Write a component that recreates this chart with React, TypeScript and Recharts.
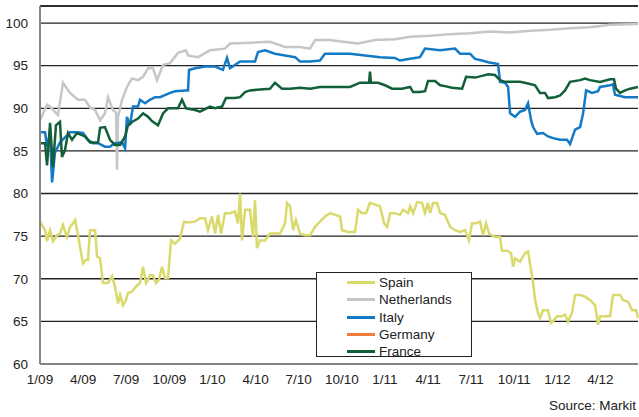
import { CartesianGrid, Line, LineChart, ReferenceLine, XAxis, YAxis } from 'recharts'

// x = months since Jan 2009, y = price
const spain: [number, number][] = [
  [0, 76.7], [0.35, 75.7], [0.49, 74.4], [0.7, 75.7], [0.9, 74.4], [1.18, 75.1], [1.39, 75.3], [1.6, 76.3],
  [1.88, 74.9], [2.09, 76.1], [2.3, 76.5], [2.44, 76.9], [2.64, 75.1], [2.78, 73.8], [2.99, 71.8], [3.2, 72.2],
  [3.34, 72.2], [3.48, 75.7], [3.83, 75.7], [3.97, 72.6], [4.18, 72.4], [4.38, 69.5], [4.73, 69.5], [5.01, 70.3],
  [5.22, 69.1], [5.43, 67.1], [5.57, 68.1], [5.78, 66.9], [5.98, 67.5], [6.12, 68.3], [6.4, 68.5], [6.68, 69.1],
  [6.96, 69.5], [7.17, 71.4], [7.38, 69.5], [7.52, 69.9], [7.65, 70.4], [7.86, 70.4], [8.07, 69.5], [8.28, 69.9],
  [8.49, 71.4], [8.7, 70.1], [8.91, 70.1], [9.12, 74.5], [9.39, 74.1], [9.74, 74.7], [10.02, 76.7], [10.3, 76.6],
  [10.79, 76.7], [11.13, 77.1], [11.48, 77.1], [11.69, 75.7], [11.97, 77.3], [12.18, 75.3], [12.39, 77.5], [12.6, 75.3],
  [12.87, 77.7], [13.22, 77.7], [13.57, 77.9], [13.78, 76.5], [13.92, 80], [14.06, 74.5], [14.27, 78.1], [14.61, 78.1],
  [14.82, 74.9], [14.96, 79.2], [15.1, 73.6], [15.31, 74.5], [15.66, 74.5], [16.0, 75.3], [16.7, 75.3], [17.05, 76.5],
  [17.19, 78.9], [17.4, 78.5], [17.61, 75.7], [17.81, 76.9], [18.09, 75.3], [18.44, 75.1], [18.79, 75.1], [19.14, 76.1],
  [19.48, 76.7], [19.83, 77.3], [20.18, 77.7], [20.53, 77.5], [20.88, 77.3], [21.02, 75.7], [21.43, 75.5], [21.92, 75.5],
  [22.13, 78.1], [22.41, 77.7], [22.69, 77.7], [22.96, 78.9], [23.31, 78.7], [23.66, 78.5], [23.94, 76.5], [24.15, 76.1],
  [24.36, 77.7], [24.7, 77.7], [25.05, 77.5], [25.26, 78.1], [25.61, 77.7], [25.75, 78.5], [25.96, 77.7], [26.24, 79],
  [26.58, 78.9], [26.79, 77.7], [27.0, 78.9], [27.14, 77.7], [27.35, 78.9], [27.63, 78.9], [27.84, 77.7], [28.18, 77.5],
  [28.53, 76.1], [28.88, 75.7], [29.23, 75.5], [29.58, 75.7], [29.85, 74.5], [30.06, 76.5], [30.34, 76.5], [30.62, 76.7],
  [30.83, 75.1], [31.04, 76.5], [31.25, 75.3], [31.66, 74.9], [32.01, 74.9], [32.15, 73.3], [32.5, 73.3], [32.78, 73],
  [32.92, 71.4], [33.06, 72.4], [33.4, 72], [33.75, 73], [33.96, 73.2], [34.17, 71], [34.31, 69.5], [34.45, 67.5],
  [34.66, 65.9], [34.79, 65.4], [35.0, 66.3], [35.35, 66.3], [35.56, 64.8], [35.7, 65], [35.98, 65.6], [36.33, 65.6],
  [36.53, 65.8], [36.74, 65], [37.02, 66], [37.23, 68.1], [37.58, 68.1], [37.93, 67.9], [38.27, 67.5], [38.62, 66.9],
  [38.83, 64.6], [38.97, 65.6], [39.67, 65.6], [39.87, 68.1], [40.36, 68.1], [40.57, 67.5], [40.92, 67.3], [41.2, 66.3],
  [41.48, 66.3], [41.61, 65.4],
]

const netherlands: [number, number][] = [
  [0, 88.6], [0.49, 90.4], [0.7, 90.2], [1.25, 89.2], [1.6, 93], [2.09, 91.8], [2.64, 91], [3.13, 91],
  [3.48, 90.1], [3.83, 89.8], [4.18, 88.6], [4.52, 89.4], [4.73, 91.3], [5.08, 89.8], [5.29, 89.5], [5.36, 82.8],
  [5.43, 89], [5.71, 91], [6.05, 92.5], [6.4, 93.5], [6.82, 93.3], [7.17, 93.7], [7.52, 94.7], [7.86, 94.7],
  [8.14, 93.3], [8.56, 95.1], [9.05, 95.3], [9.6, 96.5], [10.16, 96.8], [10.3, 96.2], [11.0, 96], [11.83, 96.8],
  [12.87, 97], [13.22, 97.6], [14.61, 97.7], [16.0, 97.8], [17.05, 97.2], [18.09, 97.2], [18.79, 97], [19.14, 98],
  [20.18, 98], [21.09, 97.8], [22.13, 97.6], [23.31, 98], [24.7, 98.1], [25.75, 98.4], [27.14, 98.5], [28.53, 98.7],
  [29.92, 98.8], [31.32, 99], [32.71, 98.9], [34.1, 99.1], [35.49, 99.2], [36.88, 99.4], [38.27, 99.5], [39.67, 99.8],
  [41.61, 99.9],
]

const italy: [number, number][] = [
  [0, 87.2], [0.35, 87.2], [0.49, 85.5], [0.7, 87], [0.84, 81.3], [1.04, 84.8], [1.39, 86], [1.74, 86.6],
  [2.09, 87.2], [2.57, 87.2], [2.99, 87.1], [3.34, 86.3], [3.69, 85.9], [4.04, 85.9], [4.52, 85.5], [4.87, 85.5],
  [5.22, 85.9], [5.71, 86], [5.92, 85.3], [6.05, 89], [6.26, 88], [6.47, 90.2], [6.82, 90.2], [6.96, 91],
  [7.31, 90.6], [7.65, 91], [8.0, 91.3], [8.35, 91.3], [9.05, 91.8], [9.39, 92], [10.09, 92.1], [10.3, 92.1],
  [10.37, 94.5], [10.79, 94.7], [11.48, 94.9], [12.18, 94.9], [12.73, 94.5], [13.01, 95.9], [13.22, 94.7], [13.92, 95.5],
  [14.96, 95.5], [15.17, 96.6], [15.66, 96.8], [16.35, 96.4], [17.05, 96.2], [17.75, 96], [18.09, 95.5], [18.79, 95.5],
  [19.48, 95.6], [19.83, 96.4], [20.53, 96.4], [21.57, 96.4], [22.62, 96.2], [23.66, 96], [24.7, 95.9], [25.05, 95.6],
  [25.75, 95.8], [26.44, 96], [26.79, 97], [27.84, 96.8], [28.88, 97], [29.23, 96.4], [29.92, 96.4], [30.27, 95.8],
  [30.76, 95.6], [31.18, 95.4], [31.87, 95.2], [32.01, 93.1], [32.36, 93], [32.57, 92.5], [32.71, 89.4], [33.06, 89],
  [33.4, 89.6], [33.75, 89.8], [33.96, 90.6], [34.17, 88.6], [34.31, 87.8], [34.59, 87], [35.0, 87.1], [35.35, 86.7],
  [35.7, 86.5], [36.19, 86.3], [36.67, 86.3], [36.88, 85.8], [37.23, 87.5], [37.58, 87.8], [37.79, 89.4], [38.0, 92.1],
  [38.41, 91.8], [38.83, 92], [38.97, 92.5], [39.67, 92.7], [39.87, 92.8], [40.01, 91.6], [40.71, 91.3], [41.61, 91.3],
]

const germany: [number, number][] = []

const france: [number, number][] = [
  [0, 85.9], [0.35, 85.9], [0.49, 83.3], [0.7, 88.3], [0.9, 83.1], [1.11, 88], [1.39, 88.4], [1.53, 84.3],
  [1.74, 85.1], [1.95, 87.1], [2.23, 86.3], [2.57, 87.1], [3.13, 86.7], [3.48, 86], [4.04, 86], [4.18, 87.7],
  [4.52, 87.8], [4.87, 86.3], [5.22, 85.7], [5.57, 85.7], [5.92, 86.7], [6.12, 88], [6.4, 88.4], [6.82, 88.8],
  [7.17, 89.4], [7.52, 89], [7.79, 88.5], [8.21, 88], [8.56, 89.4], [8.91, 90], [9.6, 90], [9.88, 91],
  [10.16, 90], [10.79, 89.8], [11.13, 89.6], [11.83, 90.2], [12.18, 90], [12.67, 90.2], [12.94, 91.2], [13.57, 91.2],
  [13.92, 91.3], [14.27, 91.9], [14.61, 92.1], [15.31, 92.2], [16.0, 92.3], [16.35, 93], [16.84, 92.3], [17.4, 92.3],
  [18.09, 92.4], [18.79, 92.3], [19.48, 92.5], [20.53, 92.5], [21.57, 92.5], [22.27, 93], [22.9, 93], [22.96, 94.3],
  [23.03, 93], [23.52, 93], [24.01, 92.7], [24.5, 92.3], [25.19, 92.3], [25.75, 92.5], [25.96, 91.9], [26.44, 91.9],
  [26.79, 92], [27.0, 93.2], [27.49, 93.2], [27.84, 92.7], [28.18, 92.6], [28.67, 92.4], [29.37, 92.3], [29.65, 93.7],
  [30.27, 93.6], [30.76, 93.8], [31.18, 94], [31.66, 93.9], [32.01, 93.3], [32.36, 93.1], [33.4, 93.1], [33.96, 92.9],
  [34.45, 92.7], [34.79, 91.8], [35.14, 91.8], [35.35, 91.2], [35.84, 91.3], [36.19, 91.5], [36.53, 92.1], [36.88, 93.1],
  [37.58, 93.3], [37.93, 93.5], [38.27, 93.3], [38.97, 93.1], [39.67, 93.4], [39.94, 93.4], [40.08, 92.3], [40.36, 91.8],
  [40.71, 92.1], [41.06, 92.3], [41.61, 92.5],
]

const quarterLabels = ['1/09', '4/09', '7/09', '10/09', '1/10', '4/10', '7/10', '10/10', '1/11', '4/11', '7/11', '10/11', '1/12', '4/12']
const yTicks = [60, 65, 70, 75, 80, 85, 90, 95, 100]

const series = [
  { name: 'Spain', color: '#d9d96c', data: spain },
  { name: 'Netherlands', color: '#c6c6c6', data: netherlands },
  { name: 'Italy', color: '#127ac6', data: italy },
  { name: 'Germany', color: '#f07d3a', data: germany },
  { name: 'France', color: '#12603a', data: france },
]

const font = '"Liberation Sans", Arial, sans-serif'

function LegendBox() {
  return (
    <div style={{ position: 'absolute', left: 316, top: 272, width: 156, height: 85, border: '1.5px solid #222', background: '#fff', boxSizing: 'border-box', paddingTop: 1, fontFamily: font, fontSize: 13.5, color: '#222' }}>
      {series.map((s) => (
        <div key={s.name} style={{ display: 'flex', alignItems: 'center', height: 17.3 }}>
          <div style={{ marginLeft: 30, width: 28, height: 3, background: s.color }} />
          <span style={{ marginLeft: 4 }}>{s.name}</span>
        </div>
      ))}
    </div>
  )
}

export default function App() {
  return (
    <div style={{ position: 'absolute', left: 0, top: 0, width: 639, height: 417, background: '#fff' }}>
      <LineChart width={639} height={417} margin={{ top: 6, right: 1, bottom: 0, left: 0 }}>
        <CartesianGrid vertical={false} stroke="#222" strokeWidth={1.3} />
        <XAxis
          type="number"
          dataKey="m"
          domain={[0, 41.61]}
          ticks={quarterLabels.map((_, i) => i * 3)}
          tickFormatter={(v) => quarterLabels[Math.round(Number(v) / 3)] ?? ''}
          tickLine={false}
          tickSize={0}
          tickMargin={10}
          height={53}
          axisLine={{ stroke: '#858585', strokeWidth: 2 }}
          tick={{ fill: '#222', fontSize: 13.5, fontFamily: font }}
          allowDuplicatedCategory={false}
        />
        <YAxis
          type="number"
          domain={[60, 102]}
          ticks={yTicks}
          tickLine={false}
          tickSize={0}
          tickMargin={12}
          width={40}
          axisLine={{ stroke: '#858585', strokeWidth: 2 }}
          tick={{ fill: '#222', fontSize: 13.5, fontFamily: font }}
        />
        <ReferenceLine y={102} stroke="#222" strokeWidth={1.3} />
        {series.map((s) => (
          <Line
            key={s.name}
            data={s.data.map(([m, v]) => ({ m, v }))}
            dataKey="v"
            name={s.name}
            type="linear"
            stroke={s.color}
            strokeWidth={2.5}
            dot={false}
            isAnimationActive={false}
          />
        ))}
      </LineChart>
      <LegendBox />
      <div style={{ position: 'absolute', right: 3, top: 398, fontFamily: font, fontSize: 13.5, color: '#222' }}>
        Source: Markit
      </div>
    </div>
  )
}
